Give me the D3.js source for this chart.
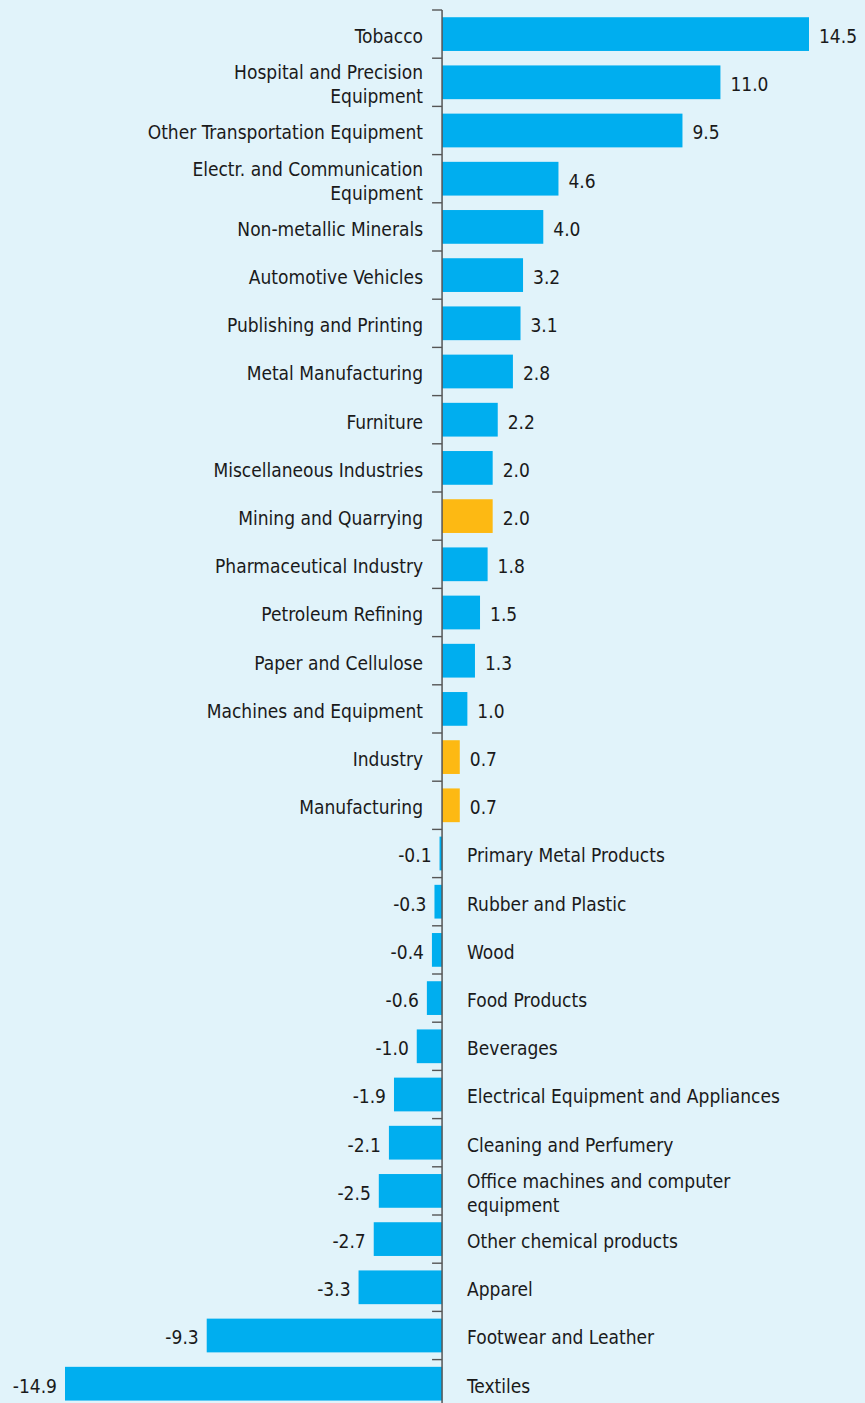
<!DOCTYPE html>
<html>
<head>
<meta charset="utf-8">
<script src="https://cdn.jsdelivr.net/npm/d3@7/dist/d3.min.js"></script>
<style>
  html, body { margin: 0; padding: 0; background: #e1f3fa; }
  svg { display: block; }
  text { font-family: "DejaVu Sans Condensed", "DejaVu Sans", sans-serif; font-stretch: condensed; fill: #1a1a1a; }
</style>
</head>
<body>
<svg id="chart" width="865" height="1403"></svg>
<script>
const categories = [
  "Tobacco", "Hospital and Precision\nEquipment", "Other Transportation Equipment",
  "Electr. and Communication\nEquipment", "Non-metallic Minerals", "Automotive Vehicles",
  "Publishing and Printing", "Metal Manufacturing", "Furniture", "Miscellaneous Industries",
  "Mining and Quarrying", "Pharmaceutical Industry", "Petroleum Refining", "Paper and Cellulose",
  "Machines and Equipment", "Industry", "Manufacturing", "Primary Metal Products",
  "Rubber and Plastic", "Wood", "Food Products", "Beverages",
  "Electrical Equipment and Appliances", "Cleaning and Perfumery",
  "Office machines and computer\nequipment", "Other chemical products", "Apparel",
  "Footwear and Leather", "Textiles"
];
const values = [
  14.5, 11.0, 9.5, 4.6, 4.0, 3.2, 3.1, 2.8, 2.2, 2.0, 2.0, 1.8, 1.5, 1.3, 1.0, 0.7, 0.7,
  -0.1, -0.3, -0.4, -0.6, -1.0, -1.9, -2.1, -2.5, -2.7, -3.3, -9.3, -14.9
];
const aggregates = ["Mining and Quarrying", "Industry", "Manufacturing"];

const data = categories.map((c, i) => ({ name: c, value: values[i], agg: aggregates.includes(c) }));

const svg = d3.select("#chart");
const blue = "#00aeef", orange = "#fdb913";

const x = d3.scaleLinear().domain([-14.9, 14.5]).range([65, 809]);
const y = d3.scaleBand().domain(categories).range([10, 10 + 48.2 * categories.length])
  .paddingInner(0.3).paddingOuter(0.15);
const step = y.step();
const x0 = x(0);
const fmt = v => v.toFixed(1);

// bars
svg.append("g").selectAll("rect").data(data).join("rect")
  .attr("x", d => Math.min(x(d.value), x0))
  .attr("y", d => y(d.name))
  .attr("width", d => Math.abs(x(d.value) - x0))
  .attr("height", y.bandwidth())
  .attr("fill", d => d.agg ? orange : blue);

// axis line and ticks at band boundaries
const axis = svg.append("g");
axis.append("line").attr("x1", x0).attr("x2", x0).attr("y1", 10).attr("y2", 1403)
  .attr("stroke", "#555").attr("stroke-width", 1.5);
const bounds = d3.range(categories.length + 1).map(i => 10 + i * step);
axis.selectAll("line.tick").data(bounds).join("line").attr("class", "tick")
  .attr("x1", x0 - 10).attr("x2", x0).attr("y1", d => d).attr("y2", d => d)
  .attr("stroke", "#555").attr("stroke-width", 1.4);

const fs = 19;
// value labels
svg.append("g").selectAll("text").data(data).join("text")
  .attr("x", d => d.value >= 0 ? x(d.value) + 10 : x(d.value) - 8)
  .attr("y", d => y(d.name) + y.bandwidth() / 2 + 2)
  .attr("dy", "0.36em")
  .attr("text-anchor", d => d.value >= 0 ? "start" : "end")
  .style("font-size", fs + "px")
  .text(d => fmt(d.value));

// category labels
const labs = svg.append("g").selectAll("text").data(data).join("text")
  .attr("x", d => d.value >= 0 ? x0 - 19 : x0 + 25)
  .attr("y", d => y(d.name) + y.bandwidth() / 2 + 2)
  .attr("text-anchor", d => d.value >= 0 ? "end" : "start")
  .style("font-size", fs + "px");
labs.each(function(d) {
  const lines = d.name.split("\n");
  const lh = 24;
  const t = d3.select(this);
  lines.forEach((ln, i) => {
    t.append("tspan").attr("x", t.attr("x"))
      .attr("y", +t.attr("y") + (i - (lines.length - 1) / 2) * lh)
      .attr("dy", "0.36em").text(ln);
  });
});
</script>
</body>
</html>
